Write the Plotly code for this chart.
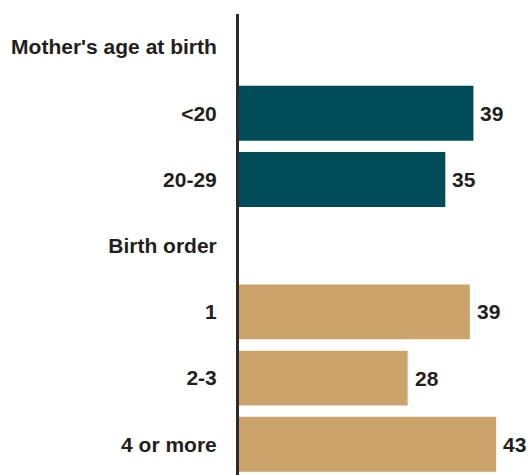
import plotly.graph_objects as go

categories = ["Mother's age at birth", "<20", "20-29", "Birth order", "1", "2-3", "4 or more"]
values = [None, 39.2, 34.5, None, 38.6, 28.2, 43.0]
value_labels = ["", "39", "35", "", "39", "28", "43"]
groups = ["header", "age", "age", "header", "order", "order", "order"]

group_colors = {"age": "#004D59", "order": "#CDA36C", "header": "rgba(0,0,0,0)"}
colors = [group_colors[g] for g in groups]

FONT = "Liberation Sans, Arial, Helvetica, sans-serif"
TXT = "#231F20"

fig = go.Figure()
fig.add_trace(go.Bar(
    y=categories,
    x=values,
    orientation="h",
    marker=dict(color=colors, line=dict(width=0)),
    width=0.83,
    hoverinfo="skip",
))

for i, (v, lab) in enumerate(zip(values, value_labels)):
    if v is None:
        continue
    fig.add_annotation(
        x=v, y=i, text=lab, showarrow=False,
        xanchor="left", yanchor="middle", xshift=5,
        font=dict(family=FONT, size=21, color=TXT, weight="bold"),
    )

fig.update_layout(
    width=528, height=475,
    margin=dict(l=239, r=0, t=14, b=0),
    paper_bgcolor="white", plot_bgcolor="white",
    showlegend=False,
    xaxis=dict(range=[0, 289 / 5.98], visible=False, fixedrange=True),
    yaxis=dict(
        type="category",
        categoryorder="array", categoryarray=categories,
        range=[-0.5 + 461 / 66.2, -0.5],
        showline=True, linecolor="#2B2B2B", linewidth=3,
        showgrid=False, zeroline=False,
        ticks="", ticklabelstandoff=15,
        tickfont=dict(family=FONT, size=21, color=TXT, weight="bold"),
        fixedrange=True,
    ),
)

fig.write_html("out.html")
